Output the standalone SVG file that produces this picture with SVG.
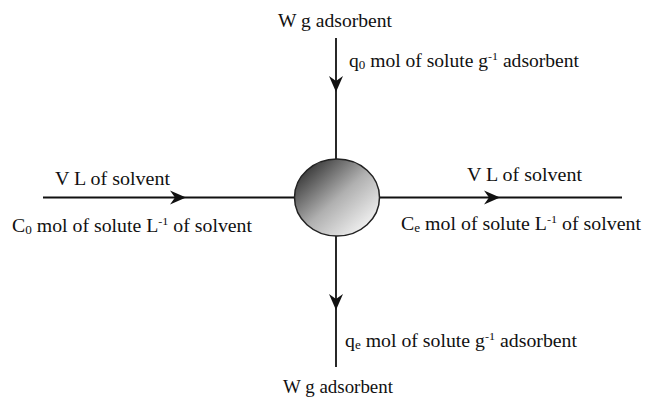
<svg xmlns="http://www.w3.org/2000/svg" width="649" height="397" viewBox="0 0 649 397">
<style>
text{font-family:"Liberation Serif","Times New Roman",serif;font-size:18px;fill:#111}
.sub{font-size:12px}
.sup{font-size:11px}
.ln{stroke:#111;stroke-width:1.8;fill:none}
</style>
<defs>
<linearGradient id="g" x1="0.12" y1="0.12" x2="0.9" y2="0.9">
<stop offset="0" stop-color="#383838"/>
<stop offset="0.5" stop-color="#b0b0b0"/>
<stop offset="1" stop-color="#f6f6f6"/>
</linearGradient>
<path id="ah" d="M0,0 L-16,-7 L-11,0 L-16,7 Z" fill="#111"/>
</defs>
<rect width="649" height="397" fill="#fff"/>
<g id="connectors">
<line class="ln" x1="336" y1="38" x2="336" y2="159"/>
<line class="ln" x1="336" y1="236" x2="336" y2="367"/>
<line class="ln" x1="43" y1="197.5" x2="295" y2="197.5"/>
<line class="ln" x1="379" y1="197.5" x2="622" y2="197.5"/>
<use href="#ah" transform="translate(336,92) rotate(90)"/>
<use href="#ah" transform="translate(336,310) rotate(90)"/>
<use href="#ah" transform="translate(186,197.5)"/>
<use href="#ah" transform="translate(500,197.5)"/>
</g>
<g id="vessel">
<ellipse cx="337" cy="197.5" rx="42.5" ry="38.5" fill="url(#g)" stroke="#222" stroke-width="1.5"/>
</g>
<g id="top-labels">
<text x="278" y="27" textLength="114" lengthAdjust="spacingAndGlyphs">W g adsorbent</text>
<text x="349" y="67" textLength="230" lengthAdjust="spacingAndGlyphs">q<tspan class="sub" dy="2">0</tspan><tspan dy="-2"> mol of solute g</tspan><tspan class="sup" dy="-7">-1</tspan><tspan dy="7"> adsorbent</tspan></text>
</g>
<g id="left-labels">
<text x="55" y="185" textLength="115" lengthAdjust="spacingAndGlyphs">V L of solvent</text>
<text x="12" y="232" textLength="240" lengthAdjust="spacingAndGlyphs">C<tspan class="sub" dy="2">0</tspan><tspan dy="-2"> mol of solute L</tspan><tspan class="sup" dy="-7">-1</tspan><tspan dy="7"> of solvent</tspan></text>
</g>
<g id="right-labels">
<text x="467" y="181" textLength="115" lengthAdjust="spacingAndGlyphs">V L of solvent</text>
<text x="401" y="230" textLength="240" lengthAdjust="spacingAndGlyphs">C<tspan class="sub" dy="2">e</tspan><tspan dy="-2"> mol of solute L</tspan><tspan class="sup" dy="-7">-1</tspan><tspan dy="7"> of solvent</tspan></text>
</g>
<g id="bottom-labels">
<text x="345" y="347" textLength="232" lengthAdjust="spacingAndGlyphs">q<tspan class="sub" dy="2">e</tspan><tspan dy="-2"> mol of solute g</tspan><tspan class="sup" dy="-7">-1</tspan><tspan dy="7"> adsorbent</tspan></text>
<text x="283" y="393" textLength="110" lengthAdjust="spacingAndGlyphs">W g adsorbent</text>
</g>
</svg>
